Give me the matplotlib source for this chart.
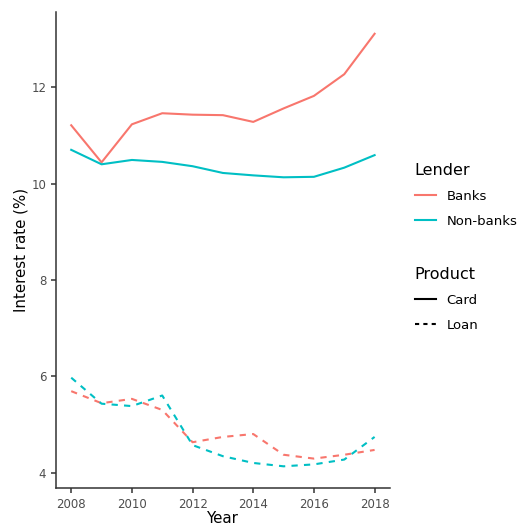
import matplotlib.pyplot as plt
from matplotlib.lines import Line2D

years = list(range(2008, 2019))
banks_card = [11.21, 10.44, 11.23, 11.46, 11.43, 11.42, 11.28, 11.56, 11.82, 12.27, 13.11]
nonbanks_card = [10.70, 10.40, 10.49, 10.45, 10.36, 10.22, 10.17, 10.13, 10.14, 10.33, 10.59]
banks_loan = [5.69, 5.44, 5.53, 5.30, 4.63, 4.74, 4.80, 4.37, 4.29, 4.37, 4.47]
nonbanks_loan = [5.97, 5.43, 5.38, 5.60, 4.57, 4.34, 4.20, 4.13, 4.17, 4.27, 4.74]

red = "#F8766D"
cyan = "#00BFC4"
lw = 1.5

fig = plt.figure(figsize=(5.19, 5.25), dpi=100)
ax = fig.add_axes([0.108, 0.0705, 0.643, 0.9065])

ax.plot(years, banks_card, color=red, lw=lw)
ax.plot(years, nonbanks_card, color=cyan, lw=lw)
ax.plot(years, banks_loan, color=red, lw=lw, ls=(0, (3, 3)))
ax.plot(years, nonbanks_loan, color=cyan, lw=lw, ls=(0, (3, 3)))

ax.set_xlim(2007.5, 2018.5)
ax.set_ylim(3.68, 13.56)
ax.set_xticks([2008, 2010, 2012, 2014, 2016, 2018])
ax.set_yticks([4, 6, 8, 10, 12])
for s in ["top", "right"]:
    ax.spines[s].set_visible(False)
for s in ["left", "bottom"]:
    ax.spines[s].set_linewidth(1.1)
    ax.spines[s].set_color("#333333")
ax.tick_params(colors="#333333", labelcolor="#4D4D4D", labelsize=8.5, length=3.5, width=1.1)
ax.set_xlabel("Year", fontsize=10.8, labelpad=0)
ax.set_ylabel("Interest rate (%)", fontsize=10.8, labelpad=2)

# two legends on the right
lender = [Line2D([], [], color=red, lw=lw), Line2D([], [], color=cyan, lw=lw)]
product = [Line2D([], [], color="black", lw=lw), Line2D([], [], color="black", lw=lw, ls=(0, (2, 2)))]
common = dict(loc="upper left", frameon=False, fontsize=9.5, title_fontsize=11.5,
              handlelength=1.6, handletextpad=0.8, labelspacing=0.9, alignment="left")
leg1 = fig.legend(lender, ["Banks", "Non-banks"], title="Lender",
                  bbox_to_anchor=(0.776, 0.712), **common)
leg2 = fig.legend(product, ["Card", "Loan"], title="Product",
                  bbox_to_anchor=(0.776, 0.514), **common)

fig.savefig("out.png", dpi=100)
